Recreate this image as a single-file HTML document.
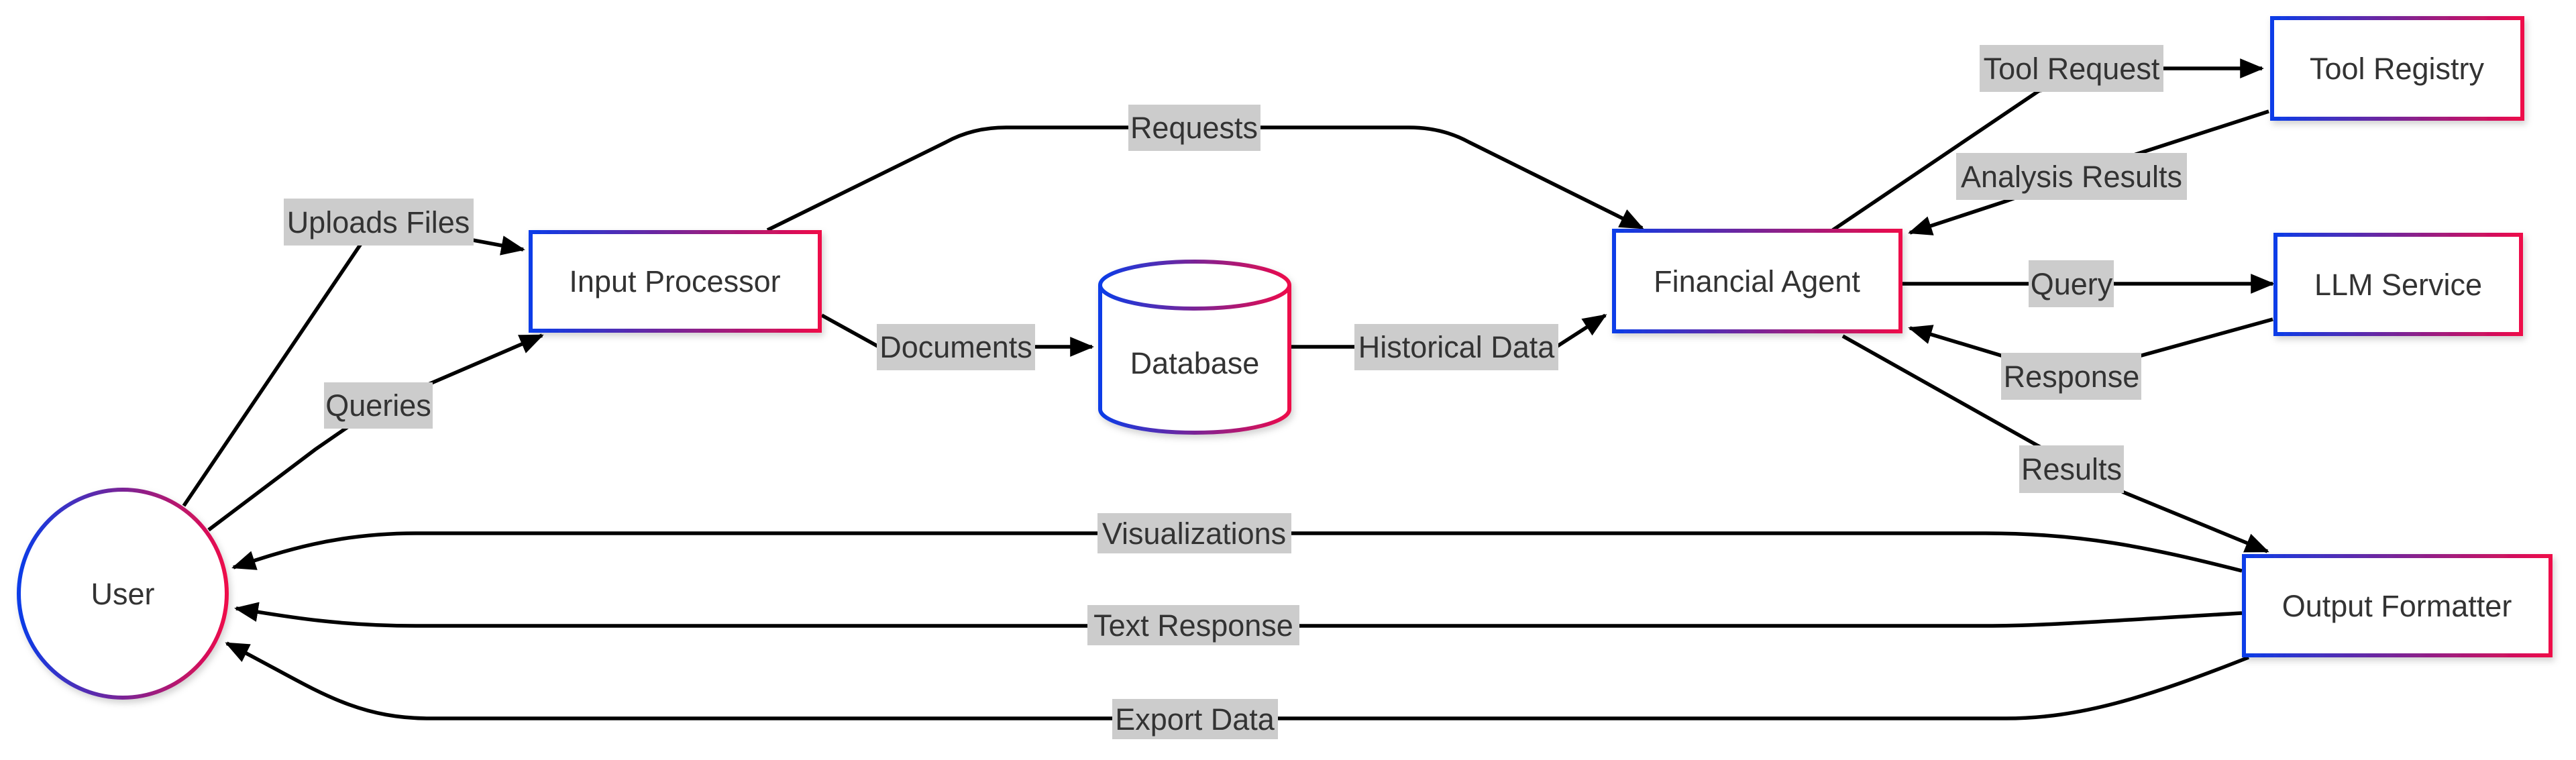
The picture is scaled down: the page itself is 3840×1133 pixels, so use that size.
<!DOCTYPE html>
<html><head><meta charset="utf-8"><style>
html,body{margin:0;padding:0;background:#fff;}
svg{display:block;}
text{font-family:"Liberation Sans",Arial,sans-serif;fill:#333;}
</style></head><body>
<svg width="3840" height="1133" viewBox="0 0 3840 1133" xmlns="http://www.w3.org/2000/svg">
<defs>
<linearGradient id="g" x1="0" y1="0" x2="1" y2="0">
<stop offset="0" stop-color="#0a3ce8"/><stop offset="0.5" stop-color="#7a2496"/><stop offset="1" stop-color="#ee0a4a"/>
</linearGradient>
<filter id="sh" x="-10%" y="-10%" width="130%" height="130%"><feDropShadow dx="3" dy="5" stdDeviation="5" flood-color="#000" flood-opacity="0.18"/></filter>
<marker id="a" viewBox="0 0 12 10" refX="11" refY="5" markerWidth="6.5" markerHeight="7" markerUnits="strokeWidth" orient="auto">
<path d="M0,0 L12,5 L0,10 z" fill="#000"/></marker>
</defs>

<g fill="none" stroke="#000" stroke-width="5.5">
<!-- Uploads Files -->
<path d="M274,754 L560,331 L780,372" marker-end="url(#a)"/>
<!-- Queries -->
<path d="M311,790 L470,670 L564,605 L808,500" marker-end="url(#a)"/>
<!-- Requests -->
<path d="M1144,343 L1410,212 Q1450,190 1500,190 L2100,190 Q2150,190 2190,212 L2448,340" marker-end="url(#a)"/>
<!-- Documents -->
<path d="M1225,470 L1310,517 L1628,517" marker-end="url(#a)"/>
<!-- Historical Data -->
<path d="M1925,517 L2320,517 L2393,470" marker-end="url(#a)"/>
<!-- Tool Request -->
<path d="M2732,343 L3040,135 L3225,102 L3372,102" marker-end="url(#a)"/>
<!-- Analysis Results -->
<path d="M3382,166 L3184,230 L2990,300 L2847,347" marker-end="url(#a)"/>
<!-- Query -->
<path d="M2836,423 L3388,423" marker-end="url(#a)"/>
<!-- Response -->
<path d="M3388,476 L3192,530 L2983,530 L2847,489" marker-end="url(#a)"/>
<!-- Results -->
<path d="M2747,501 L3037,664 L3166,734 L3380,822" marker-end="url(#a)"/>
<!-- Visualizations -->
<path d="M3342,851 C3200,815 3100,795 2960,795 L620,795 C500,795 420,822 348,846" marker-end="url(#a)"/>
<!-- Text Response -->
<path d="M3342,914 C3150,925 3050,933 2960,933 L620,933 C500,933 420,918 352,907" marker-end="url(#a)"/>
<!-- Export Data -->
<path d="M3352,980 C3200,1040 3100,1071 2990,1071 L640,1071 C520,1071 460,1020 338,959" marker-end="url(#a)"/>
</g>

<!-- Nodes -->
<g stroke="url(#g)" stroke-width="6" fill="#fff" filter="url(#sh)">
<circle cx="183" cy="885" r="155"/>
<rect x="791" y="346" width="431" height="147"/>
<rect x="2406" y="344" width="427" height="150"/>
<rect x="3387" y="27" width="373" height="150"/>
<rect x="3392" y="350" width="366" height="148"/>
<rect x="3345" y="829" width="457" height="148"/>
<path d="M1640,425 A141,35 0 0 1 1922,425 L1922,610 A141,35 0 0 1 1640,610 Z"/>
</g>
<path d="M1640,425 A141,35 0 0 0 1922,425" fill="none" stroke="url(#g)" stroke-width="6"/>

<g font-size="45" text-anchor="middle">
<text x="183" y="901">User</text>
<text x="1006" y="435">Input Processor</text>
<text x="1781" y="557">Database</text>
<text x="2619" y="435">Financial Agent</text>
<text x="3573" y="118">Tool Registry</text>
<text x="3575" y="440">LLM Service</text>
<text x="3573" y="919">Output Formatter</text>
</g>

<!-- Edge labels -->
<g fill="#ccc">
<rect x="423" y="296" width="283" height="70"/>
<rect x="483" y="570" width="162" height="69"/>
<rect x="1682" y="156" width="197" height="69"/>
<rect x="1307" y="483" width="236" height="69"/>
<rect x="2019" y="483" width="304" height="69"/>
<rect x="2951" y="67" width="274" height="70"/>
<rect x="2916" y="228" width="344" height="70"/>
<rect x="3024" y="388" width="127" height="70"/>
<rect x="2983" y="526" width="209" height="70"/>
<rect x="3010" y="664" width="156" height="71"/>
<rect x="1636" y="765" width="289" height="60"/>
<rect x="1621" y="902" width="316" height="60"/>
<rect x="1658" y="1042" width="247" height="60"/>
</g>
<g font-size="45" text-anchor="middle">
<text x="564" y="347">Uploads Files</text>
<text x="564" y="620">Queries</text>
<text x="1780" y="206">Requests</text>
<text x="1425" y="533">Documents</text>
<text x="2171" y="533">Historical Data</text>
<text x="3088" y="118">Tool Request</text>
<text x="3088" y="279">Analysis Results</text>
<text x="3088" y="439">Query</text>
<text x="3088" y="577">Response</text>
<text x="3088" y="715">Results</text>
<text x="1780" y="811">Visualizations</text>
<text x="1779" y="948">Text Response</text>
<text x="1781" y="1088">Export Data</text>
</g>
</svg>
</body></html>
